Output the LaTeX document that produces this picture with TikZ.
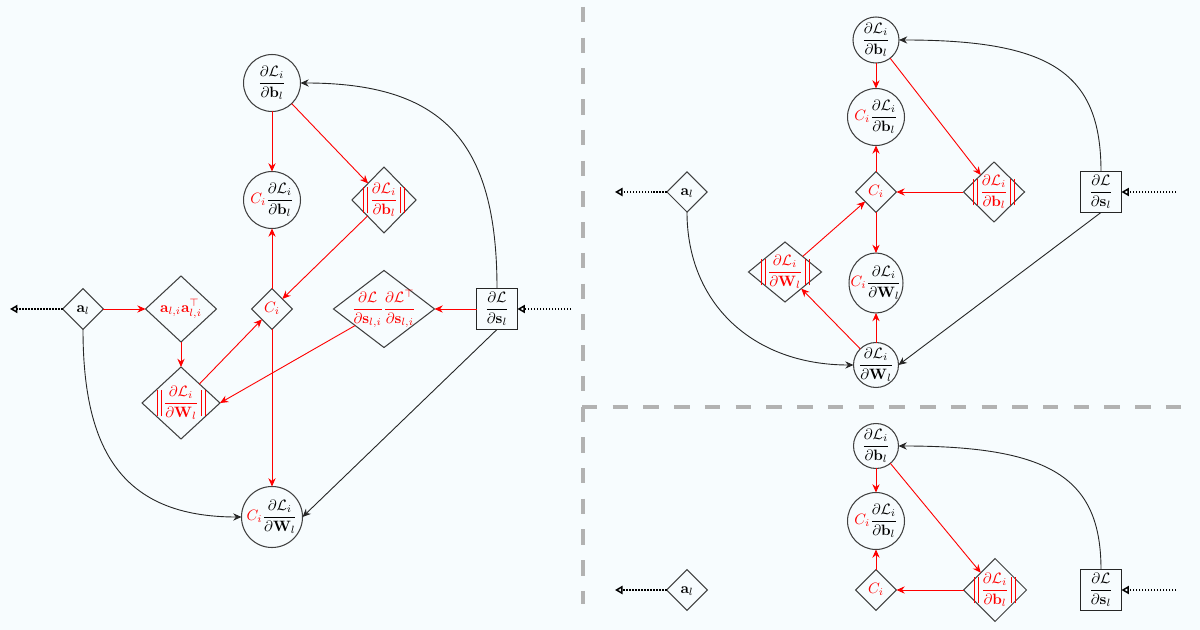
\documentclass[tikz,border=0pt]{standalone}
\usepackage{amsmath,amssymb}
\usetikzlibrary{shapes.geometric,arrows.meta}
\definecolor{bgcol}{RGB}{247,252,254}
\newcommand{\ctrmath}[1]{\makebox[0pt]{$\displaystyle #1$}}
\newcommand{\dLb}{\frac{\partial\mathcal{L}_i}{\partial\mathbf{b}_l}}
\newcommand{\dLW}{\frac{\partial\mathcal{L}_i}{\partial\mathbf{W}_l}}
\newcommand{\dLs}{\frac{\partial\mathcal{L}}{\partial\mathbf{s}_l}}
\newcommand{\rC}{\textcolor{red}{C_i}}
\newcommand{\dbar}{\mbox{\vrule width 0.35pt height 11.5pt depth 6.5pt\hspace{2.1pt}\vrule width 0.35pt height 11.5pt depth 6.5pt}}
\newcommand{\nrm}[1]{\textcolor{red}{\dbar\,#1\,\dbar}}
\tikzset{
  nd/.style={inner sep=0pt, outer sep=0pt, text height=5pt, text depth=0pt,
    draw=black!75, line width=0.7pt},
  circ/.style={nd, circle, minimum size=#1},
  ellip/.style 2 args={nd, ellipse, minimum width=#1, minimum height=#2},
  dia/.style 2 args={nd, diamond, minimum width=#1, minimum height=#2},
  sq/.style={nd, rectangle, minimum size=27.3pt, draw=black!85},
  redarr/.style={draw=red, line width=0.6pt, -{Stealth[length=5.5pt,width=4.8pt]}},
  blkarr/.style={draw=black!85, line width=0.6pt, -{Stealth[length=5.5pt,width=4.8pt]}},
  dotarr/.style={draw=black, densely dotted, line width=1pt, -{Triangle[open,length=5pt,width=5.5pt]}},
  sepline/.style={draw=gray!60, line width=3.3pt, dash pattern=on 10.3pt off 10.2pt}
}
\begin{document}
\begin{tikzpicture}[x=0.667pt, y=-0.667pt]
\fill[bgcol] (0,0) rectangle (1200,630);
\useasboundingbox (0,0) rectangle (1200,630);

% separators
\draw[sepline] (583,7) -- (583,604);
\draw[sepline] (582,407) -- (1182,407);

% ---------------- left panel ----------------
\node[circ=38pt] (bL) at (272,83) {\ctrmath{\dLb}};
\node[circ=38pt] (cbL) at (272,200) {\ctrmath{\rC\dLb}};
\node[dia={42.7pt}{44pt}] (nbL) at (384,200) {\ctrmath{\nrm{\dLb}}};
\node[dia={27.3pt}{27.3pt}] (ciL) at (272,309) {\ctrmath{\rC}};
\node[dia={27.3pt}{27.3pt}] (aL) at (83,309) {\ctrmath{\mathbf{a}_l}};
\node[dia={47.3pt}{44pt}] (aaL) at (181,309) {\ctrmath{\textcolor{red}{\mathbf{a}_{l,i}\mathbf{a}_{l,i}^{\top}}}};
\node[dia={67.4pt}{51.4pt}] (dsL) at (384,309) {\ctrmath{\textcolor{red}{\frac{\partial\mathcal{L}}{\partial\mathbf{s}_{l,i}}\frac{\partial\mathcal{L}^{\top}}{\partial\mathbf{s}_{l,i}}}}};
\node[sq] (boxL) at (497,309) {\ctrmath{\dLs}};
\node[dia={52pt}{48pt}] (nwL) at (181,403) {\ctrmath{\nrm{\dLW}}};
\node[circ=40.7pt] (cwL) at (272,517) {\ctrmath{\rC\dLW}};
\coordinate (lL) at (10,309);
\coordinate (rL) at (571,309);

\draw[redarr] (bL) -- (cbL);
\draw[redarr] (bL) -- (nbL);
\draw[redarr] (nbL) -- (ciL);
\draw[redarr] (ciL) -- (cbL);
\draw[redarr] (ciL) -- (cwL);
\draw[redarr] (aL) -- (aaL);
\draw[redarr] (aaL) -- (nwL);
\draw[redarr] (nwL) -- (ciL);
\draw[redarr] (boxL) -- (dsL);
\draw[redarr] (dsL) -- (nwL.east);
\draw[blkarr] (boxL.north) .. controls +(0,-148) and +(142,0) .. (bL.east);
\draw[blkarr] (boxL.south) -- (cwL.east);
\draw[blkarr] (aL.south) .. controls +(0,120) and +(-120,0) .. (cwL.west);
\draw[dotarr] (aL.west) -- (lL);
\draw[dotarr] (rL) -- (boxL.east);

% ---------------- top right panel ----------------
\node[circ=30.7pt] (bR) at (876,40) {\ctrmath{\dLb}};
\node[circ=38pt] (cbR) at (876,117) {\ctrmath{\rC\dLb}};
\node[dia={27.3pt}{27.3pt}] (ciR) at (876,192) {\ctrmath{\rC}};
\node[dia={40.7pt}{40pt}] (nbR) at (994,192) {\ctrmath{\nrm{\dLb}}};
\node[sq] (boxR) at (1101,192) {\ctrmath{\dLs}};
\node[dia={26.7pt}{26.7pt}] (aR) at (687,192) {\ctrmath{\mathbf{a}_l}};
\node[dia={48.7pt}{40pt}] (nwR) at (785,272) {\ctrmath{\nrm{\dLW}}};
\node[ellip={36pt}{40pt}] (cwR) at (876,283) {\ctrmath{\rC\dLW}};
\node[circ=30pt] (wR) at (876,365) {\ctrmath{\dLW}};
\coordinate (lR) at (615,192);
\coordinate (rR) at (1176,192);

\draw[redarr] (bR) -- (cbR);
\draw[redarr] (bR) -- (nbR);
\draw[redarr] (nbR) -- (ciR);
\draw[redarr] (ciR) -- (cbR);
\draw[redarr] (ciR) -- (cwR);
\draw[redarr] (wR) -- (cwR);
\draw[redarr] (wR) -- (nwR);
\draw[redarr] (nwR) -- (ciR);
\draw[blkarr] (boxR.north) .. controls +(0,-99) and +(152,0) .. (bR.east);
\draw[blkarr] (boxR.south) -- (wR.east);
\draw[blkarr] (aR.south) .. controls +(0,92) and +(-100,0) .. (wR.west);
\draw[dotarr] (aR.west) -- (lR);
\draw[dotarr] (rR) -- (boxR.east);

% ---------------- bottom right panel ----------------
\node[circ=30pt] (bB) at (876,446) {\ctrmath{\dLb}};
\node[circ=38pt] (cbB) at (876,521) {\ctrmath{\rC\dLb}};
\node[dia={27.3pt}{27.3pt}] (ciB) at (876,590) {\ctrmath{\rC}};
\node[dia={42pt}{42pt}] (nbB) at (995,590) {\ctrmath{\nrm{\dLb}}};
\node[sq] (boxB) at (1101,590) {\ctrmath{\dLs}};
\node[dia={27.3pt}{27.3pt}] (aB) at (687,590) {\ctrmath{\mathbf{a}_l}};
\coordinate (lB) at (615,590);
\coordinate (rB) at (1176,590);

\draw[redarr] (bB) -- (cbB);
\draw[redarr] (bB) -- (nbB);
\draw[redarr] (nbB) -- (ciB);
\draw[redarr] (ciB) -- (cbB);
\draw[blkarr] (boxB.north) .. controls +(0,-92) and +(152,0) .. (bB.east);
\draw[dotarr] (aB.west) -- (lB);
\draw[dotarr] (rB) -- (boxB.east);
\end{tikzpicture}
\end{document}
